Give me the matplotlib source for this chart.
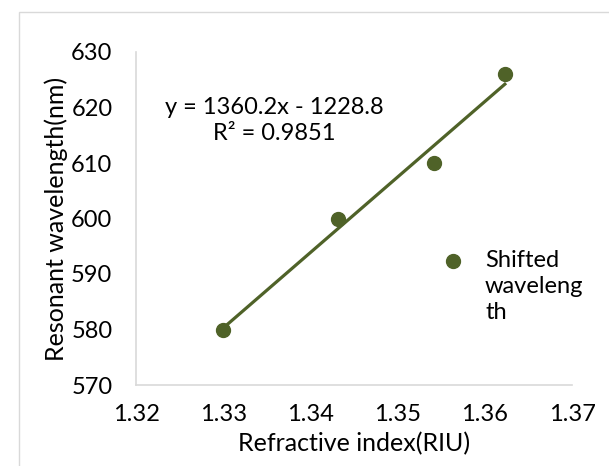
import numpy as np
import matplotlib
matplotlib.use("Agg")
import matplotlib.pyplot as plt
from matplotlib.patches import Rectangle

# data
refractive_index = [1.330, 1.3432, 1.3542, 1.3623]
resonant_wl = [580, 600, 610, 626]
fit_slope = 1360.2
fit_intercept = -1228.8
eq_text = "y = 1360.2x - 1228.8\nR² = 0.9851"
series_name = "Shifted\nwaveleng\nth"

x_ticks = [1.32, 1.33, 1.34, 1.35, 1.36, 1.37]
y_ticks = [570, 580, 590, 600, 610, 620, 630]

green = "#4f6228"
plt.rcParams['font.family'] = ['Lato', 'DejaVu Sans']

fig = plt.figure(figsize=(6.09, 4.66), dpi=100)
ax = fig.add_axes([136 / 609, 1 - 385 / 466, (572 - 136) / 609, (385 - 52) / 466])

# chart border like the excel frame
fig.patches.append(Rectangle((19 / 609, -0.1), 1.2, 1 - 12 / 466 + 0.1,
                             transform=fig.transFigure, fill=False,
                             edgecolor="#d9d9d9", linewidth=1.0))

ax.scatter(refractive_index, resonant_wl, s=100, color=green, zorder=3,
           label=series_name)
xs = np.array([refractive_index[0], refractive_index[-1]])
ax.plot(xs, fit_slope * xs + fit_intercept, color=green, linewidth=2.3, zorder=2)

ax.set_xlim(1.32, 1.37)
ax.set_ylim(570, 630)
ax.set_xticks(x_ticks)
ax.set_xticklabels([f"{t:.2f}" for t in x_ticks])
ax.set_yticks(y_ticks)
ax.tick_params(length=0, labelsize=17, colors="black")
ax.tick_params(axis="y", pad=17)
ax.tick_params(axis="x", pad=14)

for side in ["top", "right"]:
    ax.spines[side].set_visible(False)
for side in ["left", "bottom"]:
    ax.spines[side].set_color("#d9d9d9")
    ax.spines[side].set_linewidth(1.2)

ax.set_xlabel("Refractive index(RIU)", fontsize=18, labelpad=5)
ax.set_ylabel("Resonant wavelength(nm)", fontsize=18, labelpad=2)

ax.text(1.3359, 617.7, eq_text, fontsize=17, ha="center", va="center",
        linespacing=1.3)

leg = ax.legend(loc="upper left", bbox_to_anchor=(0.668, 0.44), frameon=False,
                fontsize=17, handletextpad=0.75, handlelength=1.2, borderpad=0)
leg.get_texts()[0].set_linespacing(1.3)
# excel puts the marker next to the first line of the label
for col in leg._legend_handle_box.get_children():
    for row in col.get_children():
        row.align = "top"

fig.savefig("out.png", dpi=100)
